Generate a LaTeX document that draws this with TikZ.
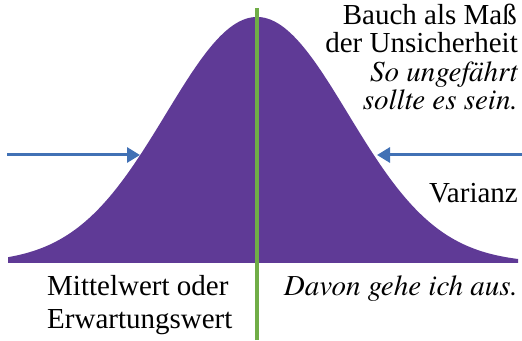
\documentclass[tikz,border=0pt]{standalone}
\usepackage{fontspec}
\setmainfont{Liberation Serif}
\newfontfamily\timesfont{Liberation Serif}
\newfontfamily\termesfont{texgyretermes}[Extension=.otf, UprightFont=*-regular, ItalicFont=*-italic]
\usetikzlibrary{arrows.meta}
\definecolor{bauchlila}{RGB}{95,58,150}
\definecolor{mittelgruen}{RGB}{112,173,71}
\definecolor{pfeilblau}{RGB}{65,113,181}
\tikzset{
  txt/.style={inner sep=0pt, font=\timesfont\fontsize{29}{29}\selectfont},
  kurs/.style={txt, font=\termesfont\fontsize{29}{29}\selectfont\itshape},
  pfeil/.style={-{Triangle[length=13pt,width=15pt]}, line width=3pt, color=pfeilblau}
}
\begin{document}
\begin{tikzpicture}[x=1pt,y=1pt]
    \useasboundingbox (0,0) rectangle (522,340);
    % Glockenkurve
    \fill[bauchlila] (8,77) -- plot[domain=8:518,samples=160]
        (\x,{77+246*exp(-((\x-257)/91)*((\x-257)/91)/2)}) -- (518,77) -- cycle;
    % Mittelwert-Linie
    \coordinate (oben) at (257,332);
    \coordinate (unten) at (257,0);
    \draw[mittelgruen, line width=4pt] (unten) -- (oben);
    % Pfeile
    \coordinate (linksA) at (7,185);
    \coordinate (linksB) at (140,185);
    \coordinate (rechtsA) at (522,185);
    \coordinate (rechtsB) at (377,185);
    \draw[pfeil] (linksA) -- (linksB);
    \draw[pfeil] (rechtsA) -- (rechtsB);
    % Texte rechts oben
    \node[txt, anchor=base east] (bauch) at (517,315) {Bauch als Maß};
    \node[txt, anchor=base east] (unsicher) at (518,287) {der Unsicherheit};
    \node[kurs, anchor=base east] (ungefaehr) at (518,258) {So ungefährt};
    \node[kurs, anchor=base east] (sein) at (518,230) {sollte es sein.};
    \node[txt, anchor=base east] (varianz) at (518,137) {Varianz};
    % Texte unten
    \node[txt, anchor=base west] (mittel) at (47,45) {Mittelwert oder};
    \node[txt, anchor=base west] (erwart) at (47,12) {Erwartungswert};
    \node[kurs, anchor=base east] (davon) at (518,45) {Davon gehe ich aus.};
\end{tikzpicture}
\end{document}
